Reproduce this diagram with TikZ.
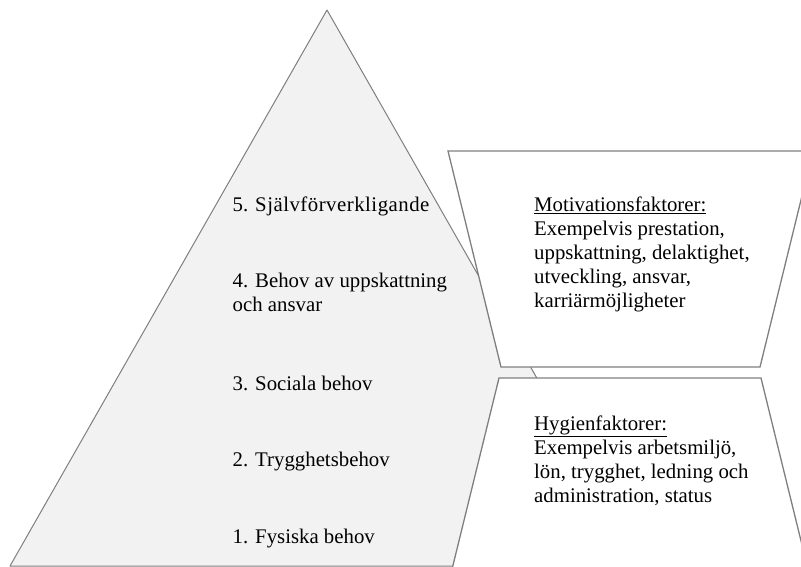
\documentclass[tikz,border=0pt]{standalone}
\usepackage{fontspec}
\setmainfont{Liberation Serif}
\definecolor{pyrfill}{HTML}{F2F2F2}
\definecolor{edgegray}{HTML}{7F7F7F}
\begin{document}
\begin{tikzpicture}[x=1pt,y=-1pt,
  % multi-line labels are placed by the baseline of their last line
  lbl/.style={anchor=base west,inner sep=0pt,align=left,
    font=\fontsize{20.8}{24}\selectfont},
  pyramid/.style={draw=edgegray,fill=pyrfill,line width=1pt,line join=round},
  factorbox/.style={draw=edgegray,fill=white,line width=1.3pt,line join=miter}]
\useasboundingbox (0,0) rectangle (801,566);
\clip (0,0) rectangle (801,566);

% Maslow pyramid
\coordinate (apex) at (327,10);
\coordinate (baseL) at (10,566);
\coordinate (baseR) at (644,566);
\draw[pyramid] (apex) -- (baseR) -- (baseL) -- cycle;

% Herzberg factor trapezoids
\draw[factorbox] (448,151) -- (813,151) -- (760,367) -- (501,367) -- cycle;
\draw[factorbox] (499,378) -- (761,378) -- (818,610) -- (442,610) -- cycle;

% Levels of the pyramid
\node[lbl] (n5) at (232.5,211) {5. {\addfontfeature{LetterSpace=2.4}Självförverkligande}};
\node[lbl] (n4) at (232.5,311) {4. Behov av uppskattning\\och ansvar};
\node[lbl] (n3) at (232.5,390) {3. Sociala behov};
\node[lbl] (n2) at (232.5,466) {2. Trygghetsbehov};
\node[lbl] (n1) at (232.5,543) {1. Fysiska behov};

% Factor descriptions
\node[lbl] (mot) at (534,307) {\underline{Motivationsfaktorer:}\\Exempelvis prestation,\\uppskattning, delaktighet,\\utveckling, ansvar,\\karriärmöjligheter};
\node[lbl] (hyg) at (534,502) {\underline{Hygienfaktorer:}\\Exempelvis arbetsmiljö,\\lön, trygghet, ledning och\\administration, status};
\end{tikzpicture}
\end{document}
